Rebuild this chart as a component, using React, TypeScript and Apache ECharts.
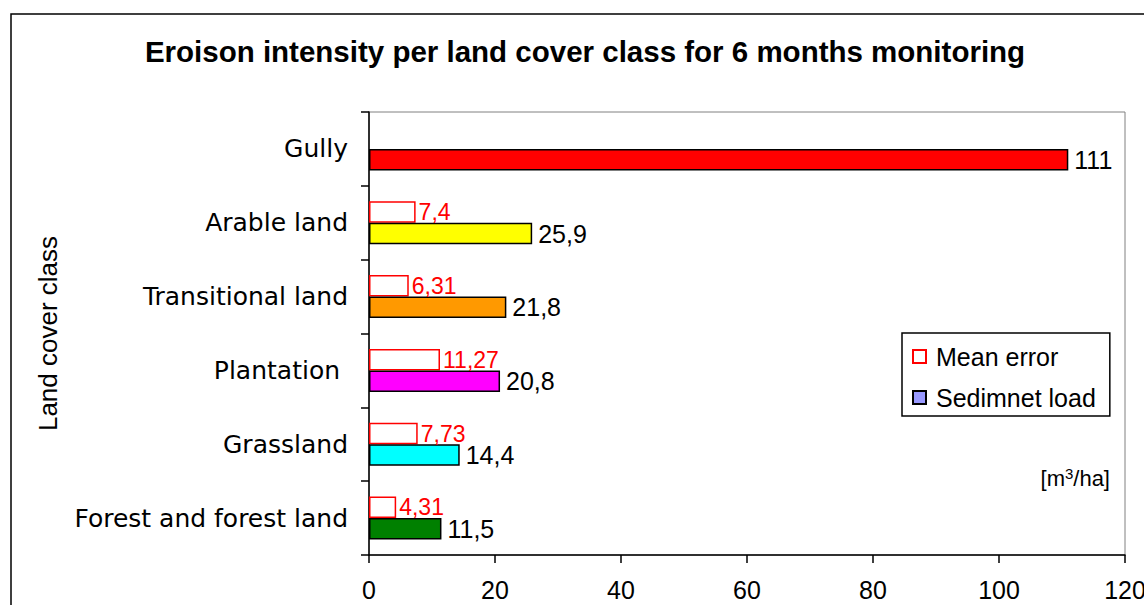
import React, { useEffect, useRef } from "react";
import * as echarts from "echarts";

const categories = [
  "Forest and forest land",
  "Grassland",
  "Plantation\u00a0",
  "Transitional land",
  "Arable land",
  "Gully",
];
const meanError: (number | null)[] = [4.31, 7.73, 11.27, 6.31, 7.4, null];
const sedimentLoad = [11.5, 14.4, 20.8, 21.8, 25.9, 111];
const sedimentColors = ["#008000", "#00FFFF", "#FF00FF", "#FF9900", "#FFFF00", "#FF0000"];
const xTicks = { min: 0, max: 120, interval: 20 };

const fmt = (v: number) => String(v).replace(".", ",");

export default function App() {
  const ref = useRef<HTMLDivElement>(null);
  useEffect(() => {
    document.body.style.margin = "0";
    const chart = echarts.init(ref.current!, undefined, { renderer: "svg" });
    chart.setOption({
      animation: false,
      backgroundColor: "#ffffff",
      title: {
        text: "Eroison intensity per land cover class for 6 months monitoring",
        left: 580,
        textAlign: "center",
        top: 31,
        textStyle: {
          fontFamily: "Liberation Sans",
          fontWeight: "bold",
          fontSize: 29.5,
          color: "#000",
        },
      },
      grid: {
        left: 369,
        right: 19,
        top: 112,
        bottom: 50,
        outerBoundsMode: "none",
        containLabel: false,
        show: true,
        borderColor: "#808080",
        borderWidth: 1,
        backgroundColor: "transparent",
      },
      legend: {
        orient: "vertical",
        left: 902,
        top: 333,
        borderColor: "#000",
        borderWidth: 1.5,
        padding: [11, 14, 6, 10],
        itemWidth: 13,
        itemHeight: 13,
        itemGap: 16,
        textStyle: {
          fontFamily: "Liberation Sans",
          fontSize: 25,
          color: "#000",
          padding: [0, 0, 0, 5],
        },
        data: [
          { name: "Mean error", icon: "rect" },
          { name: "Sedimnet load", icon: "rect" },
        ],
      },
      xAxis: {
        type: "value",
        min: xTicks.min,
        max: xTicks.max,
        interval: xTicks.interval,
        splitLine: { show: false },
        axisLine: { show: true, lineStyle: { color: "#000", width: 1.5 } },
        axisTick: { show: true, length: 8, lineStyle: { color: "#000", width: 1.5 } },
        axisLabel: {
          margin: 22,
          fontFamily: "Liberation Sans",
          fontSize: 25,
          color: "#000",
        },
      },
      yAxis: {
        type: "category",
        data: categories,
        name: "Land cover class",
        nameLocation: "middle",
        nameGap: 308,
        nameRotate: 90,
        nameTextStyle: { fontFamily: "Liberation Sans", fontSize: 26, color: "#000" },
        axisLine: { show: true, lineStyle: { color: "#000", width: 1.5 } },
        axisTick: { show: true, length: 8, lineStyle: { color: "#000", width: 1.5 } },
        axisLabel: {
          margin: 21,
          fontFamily: "DejaVu Sans",
          fontSize: 25,
          color: "#000",
        },
        splitLine: { show: false },
      },
      series: [
        {
          name: "Mean error",
          type: "bar",
          barWidth: 21.5,
          barGap: "0%",
          itemStyle: { color: "#ffffff", borderColor: "#FF0000", borderWidth: 1.5 },
          label: {
            show: true,
            position: "right",
            distance: 3,
            fontFamily: "Liberation Sans",
            fontSize: 23,
            color: "#FF0000",
            formatter: (p: any) => fmt(p.value),
          },
          data: meanError,
        },
        {
          name: "Sedimnet load",
          type: "bar",
          barWidth: 21.5,
          barGap: "0%",
          itemStyle: { color: "#9999FF", borderColor: "#000", borderWidth: 1.5 },
          label: {
            show: true,
            position: "right",
            distance: 6,
            fontFamily: "Liberation Sans",
            fontSize: 25,
            color: "#000",
            formatter: (p: any) => fmt(p.value),
          },
          data: sedimentLoad.map((v, i) => ({
            value: v,
            itemStyle: { color: sedimentColors[i] },
          })),
        },
      ],
      graphic: [
        {
          type: "rect",
          shape: { x: 11, y: 14, width: 1400, height: 700 },
          style: { fill: "none", stroke: "#000", lineWidth: 1.5 },
          silent: true,
          z: -1,
        },
        {
          type: "text",
          right: 34,
          top: 466,
          style: {
            text: "[m{sup|3}/ha]",
            font: "22px Liberation Sans",
            fill: "#000",
            rich: {
              sup: { fontSize: 15, verticalAlign: "top", fontFamily: "Liberation Sans", padding: [0, 0, 9, 0] },
            },
          },
        },
      ],
    });
    return () => chart.dispose();
  }, []);
  return <div ref={ref} style={{ position: "fixed", left: 0, top: 0, width: 1144, height: 605 }} />;
}
